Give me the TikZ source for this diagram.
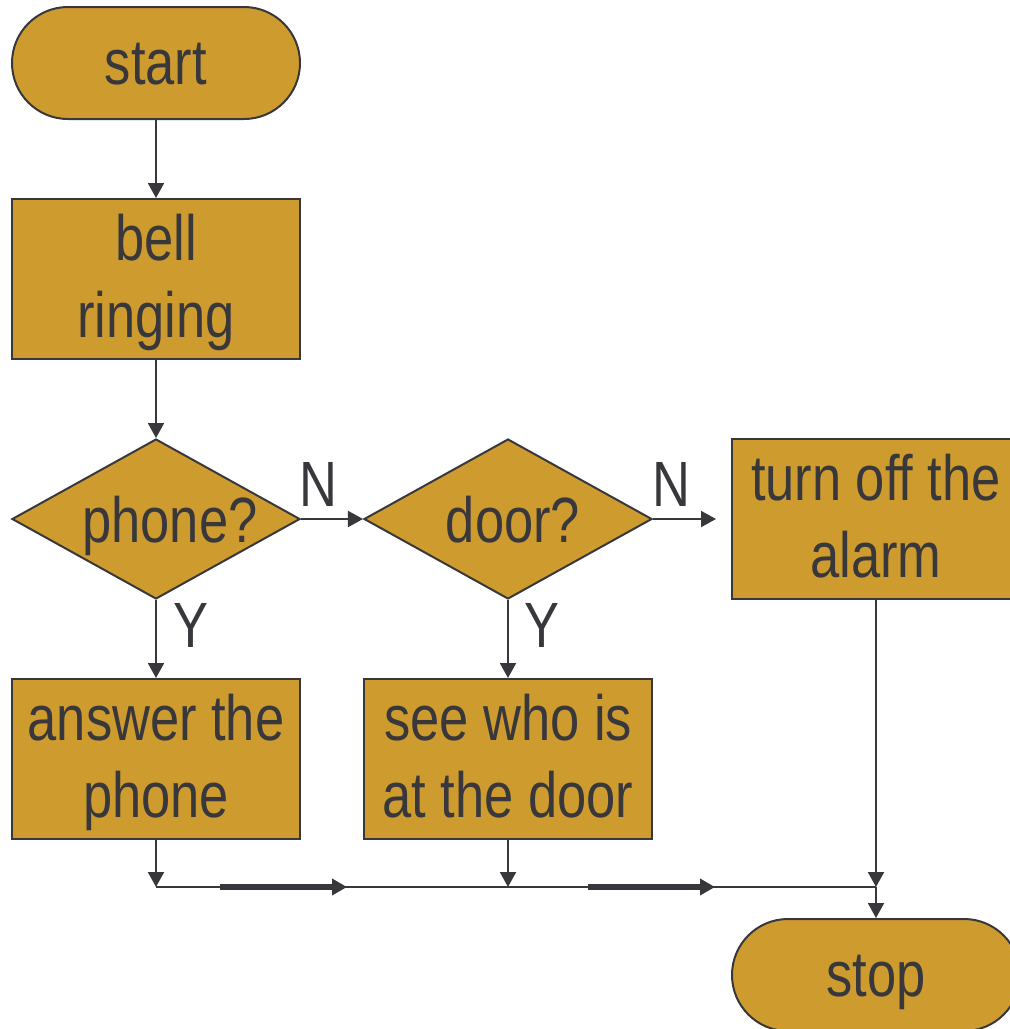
\documentclass[tikz,border=0pt]{standalone}
\usepackage{fontspec}
\setmainfont{Liberation Sans}[FakeStretch=0.82]
\usetikzlibrary{shapes.geometric,arrows.meta}
\definecolor{flowgold}{RGB}{206,155,46}
\definecolor{flowink}{RGB}{56,56,60}
\begin{document}
\begin{tikzpicture}[x=1pt,y=-1pt,draw=flowink,line width=2pt]
 	\def \colone{156}
 	\def \coltwo{508}
 	\def \colthree{876}
 	\def \rowone{63}
 	\def \rowtwo{279}
 	\def \rowthree{519}
 	\def \rowfour{759}
 	\def \rowfive{975}
 	\def \joinrow{887}
 	\tikzstyle{big-text}=[text=flowink,font=\fontsize{64pt}{77pt}\selectfont]
 	\tikzstyle{term-node}=[big-text,rectangle,rounded corners=56pt,draw=flowink,fill=flowgold,minimum width=288pt,minimum height=112pt,inner sep=0pt,text height=42pt,text depth=0pt]
 	\tikzstyle{step-node}=[big-text,rectangle,draw=flowink,fill=flowgold,minimum width=288pt,minimum height=160pt,inner sep=0pt,align=center,text height=125pt,text depth=9pt]
 	\tikzstyle{ask-node}=[big-text,diamond,draw=flowink,fill=flowgold,minimum width=288pt,minimum height=160pt,inner sep=0pt,text height=46pt,text depth=0pt]
 	\tikzstyle{annot}=[big-text,inner sep=0pt]
 	\tikzstyle{arr}=[-{Triangle[length=15pt,width=16pt]}]
 	\tikzstyle{fat-arr}=[line width=6pt,-{Triangle[length=15pt,width=16pt]}]
 	\useasboundingbox (0,0) rectangle (1010,1029);
 	\node[term-node] 	(start)	at (\colone,\rowone)		{start};
 	\node[step-node] 	(bell)	at (\colone,\rowtwo)		{bell\\ringing};
 	\node[ask-node] 	(phone)	at (\colone,\rowthree)		{\makebox[0pt]{\hspace*{28pt}phone?}};
 	\node[ask-node] 	(door)	at (\coltwo,\rowthree)		{\makebox[0pt]{\hspace*{10pt}door?}};
 	\node[step-node] 	(alarm)	at (\colthree,\rowthree)	{turn off the\\alarm};
 	\node[step-node] 	(answer)	at (\colone,\rowfour)		{answer the\\phone};
 	\node[step-node] 	(see)	at (\coltwo,\rowfour)		{see who is\\at the door};
 	\node[term-node] 	(stop)	at (\colthree,\rowfive)		{stop};
 	% join line
 	\coordinate (j1) at (\colone,\joinrow);
 	\coordinate (j2) at (\coltwo,\joinrow);
 	\coordinate (j3) at (\colthree,\joinrow);
 	\coordinate (no2) at (716,\rowthree);
 	\coordinate (f1a) at (220,\joinrow);
 	\coordinate (f1b) at (347,\joinrow);
 	\coordinate (f2a) at (588,\joinrow);
 	\coordinate (f2b) at (715,\joinrow);
 	\path (start)	edge[arr]	(bell)
		(bell)	edge[arr]	(phone)
		(phone)	edge[arr]	node[annot,above=12pt,pos=0.28]	{N}	(door)
		(door)	edge[arr]	node[annot,above=12pt,pos=0.3]	{N}	(no2)
		(phone)	edge[arr]	node[annot,right=16pt,pos=0.33]	{Y}	(answer)
		(door)	edge[arr]	node[annot,right=15pt,pos=0.33]	{Y}	(see)

		(answer)	edge[arr]	(j1)
		(see)	edge[arr]	(j2)
		(alarm)	edge[arr]	(j3)
		(j3)	edge[arr]	(stop);
 	\draw (j1) -- (j3);
 	\draw[fat-arr] (f1a) -- (f1b);
 	\draw[fat-arr] (f2a) -- (f2b);
\end{tikzpicture}
\end{document}
